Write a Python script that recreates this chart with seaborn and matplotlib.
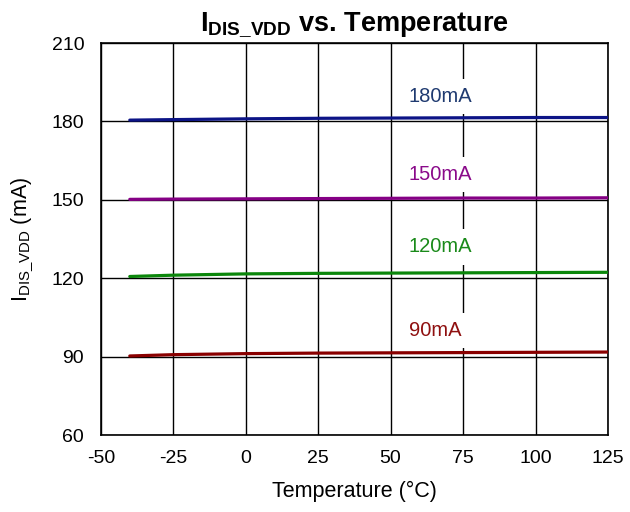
import numpy as np
import pandas as pd
import matplotlib
matplotlib.use("Agg")
import matplotlib.pyplot as plt
import seaborn as sns

# Temperature sweep (°C) and supply current per load setting (mA)
temperature = [-40, -25, 0, 25, 50, 75, 100, 125]
i_180 = [180.5, 180.7, 181.0, 181.2, 181.3, 181.4, 181.5, 181.5]
i_150 = [150.2, 150.3, 150.4, 150.5, 150.6, 150.7, 150.7, 150.8]
i_120 = [120.7, 121.2, 121.7, 121.9, 122.0, 122.1, 122.2, 122.3]
i_90 = [90.3, 90.8, 91.2, 91.4, 91.5, 91.6, 91.7, 91.8]

series_names = ["180mA", "150mA", "120mA", "90mA"]
line_colors = {"180mA": "#0c1486", "150mA": "#850085", "120mA": "#0b870b", "90mA": "#8a0000"}
text_colors = {"180mA": "#1f3a70", "150mA": "#8a0a8a", "120mA": "#1a8a1a", "90mA": "#8f1010"}
label_x = 56.3
label_y = [189.6, 159.6, 132.0, 100.0]

x_ticks = [-50, -25, 0, 25, 50, 75, 100, 125]
y_ticks = [60, 90, 120, 150, 180, 210]

df = pd.DataFrame({
    "Temperature": temperature * 4,
    "Current": i_180 + i_150 + i_120 + i_90,
    "Load": sum([[n] * len(temperature) for n in series_names], []),
})

sns.set_theme(style="white")
plt.rcParams["font.family"] = ["Liberation Sans", "DejaVu Sans"]
plt.rcParams["mathtext.fontset"] = "custom"
plt.rcParams["mathtext.rm"] = "Liberation Sans"
plt.rcParams["mathtext.bf"] = "Liberation Sans:bold"
plt.rcParams["axes.unicode_minus"] = False

fig = plt.figure(figsize=(6.3, 5.12), dpi=100)
ax = fig.add_axes([0.160, 0.150, 0.805, 0.766])

sns.lineplot(data=df, x="Temperature", y="Current", hue="Load",
             palette=line_colors, linewidth=2.3, ax=ax, legend=False, zorder=3)

ax.set_xlim(-50, 125)
ax.set_ylim(60, 210)
ax.set_xticks(x_ticks)
ax.set_yticks(y_ticks)
ax.grid(True, color="black", linewidth=1.0)
ax.set_axisbelow(True)
for s in ax.spines.values():
    s.set_color("black")
    s.set_linewidth(1.2)
ax.tick_params(axis="both", length=0, labelsize=14, colors="black")
ax.tick_params(axis="x", pad=11)
ax.tick_params(axis="y", pad=12)

for name, y in zip(series_names, label_y):
    ax.text(label_x, y, name, color=text_colors[name], fontsize=14.5,
            ha="left", va="center", zorder=4,
            bbox=dict(boxstyle="square,pad=0.4", facecolor="white", edgecolor="none"))

ax.set_xlabel("Temperature (°C)", fontsize=15.5, labelpad=10, color="black")
ax.set_ylabel(r"$\mathregular{I_{DIS\_VDD}}$ (mA)", fontsize=15.5, labelpad=11, color="black")
ax.set_title(r"$\mathbf{I_{DIS\_VDD}}$ vs. Temperature", fontsize=19.5,
             fontweight="bold", pad=9, color="black")

fig.savefig("out.png", dpi=100)
